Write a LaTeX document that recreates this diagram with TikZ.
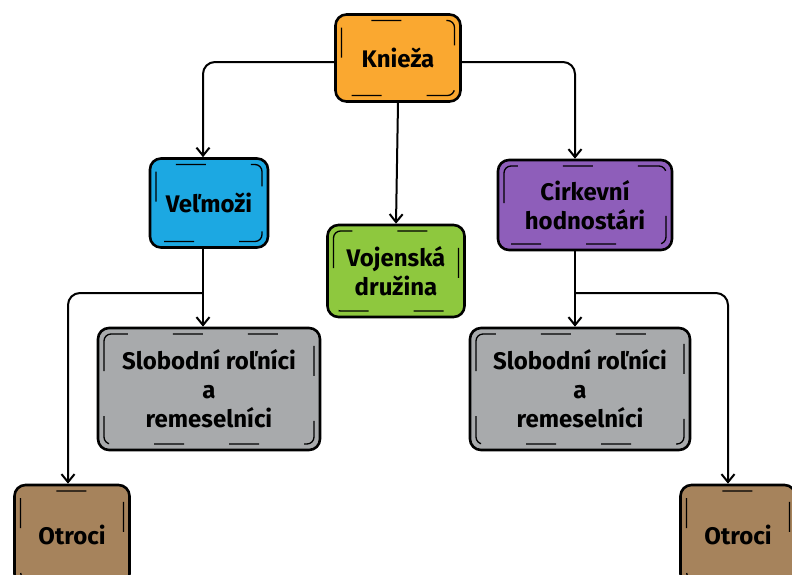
\documentclass[tikz,border=0pt]{standalone}
\usepackage{fontspec}
\setmainfont{Fira Sans}
\usepackage{xcolor}
\usepackage{tikz}
\usetikzlibrary{arrows.meta}

\definecolor{knOrange}{RGB}{250,168,48}
\definecolor{velBlue}{RGB}{28,168,226}
\definecolor{cirPurple}{RGB}{142,94,186}
\definecolor{vojGreen}{RGB}{142,200,62}
\definecolor{slGray}{RGB}{168,170,172}
\definecolor{otBrown}{RGB}{166,131,92}

\tikzset{
  box/.style={draw, black, line width=2.6pt, rounded corners=11pt, align=center,
    font=\fontsize{24}{29}\selectfont\bfseries,
    path picture={\draw[line width=1.3pt, dash pattern=on 30pt off 45pt, rounded corners=7pt]
      ([shift={(6pt,-6pt)}]path picture bounding box.north west) rectangle
      ([shift={(-6pt,6pt)}]path picture bounding box.south east);}},
  conn/.style={black, line width=2pt, rounded corners=12pt, -{Straight Barb[length=8pt,width=13pt]}}
}

\begin{document}
\begin{tikzpicture}[x=1pt, y=1pt, node distance=145pt]
                \useasboundingbox (0,0) rectangle (792,-574);
                \node[box, fill=knOrange, minimum width=125pt, minimum height=87pt] (kn) at (398,-58) {Knieža};
                \node[box, fill=velBlue, minimum width=118pt, minimum height=89pt, below of=kn, xshift=-189pt] (vel) {Veľmoži};
                \node[box, fill=cirPurple, minimum width=174pt, minimum height=90pt, below of=kn, xshift=187pt, yshift=-2pt] (cir) {Cirkevní\\hodnostári};
                \node[box, fill=vojGreen, minimum width=137pt, minimum height=92pt, below of=kn, xshift=-2pt, yshift=-68pt] (voj) {Vojenská\\družina};
                \node[box, fill=slGray, minimum width=222pt, minimum height=122pt, below of=vel, yshift=-41pt] (sl1) {Slobodní roľníci\\a\\remeselníci};
                \node[box, fill=slGray, minimum width=220pt, minimum height=122pt, below of=cir, xshift=-5pt, yshift=-39pt] (sl2) {Slobodní roľníci\\a\\remeselníci};
                \node[box, fill=otBrown, minimum width=115pt, minimum height=100pt, below of=sl1, xshift=-137pt, yshift=-1pt] (ot1) {Otroci};
                \node[box, fill=otBrown, minimum width=115pt, minimum height=100pt, below of=sl2, xshift=158pt, yshift=-1pt] (ot2) {Otroci};
                \coordinate (b1) at (203,-293);
                \coordinate (b2) at (575,-293);
                \draw[conn] ([yshift=-4pt]kn.west) -| ([xshift=-6pt]vel.north);
                \draw[conn] ([yshift=-4pt]kn.east) -| ([xshift=-10pt]cir.north);
                \draw[conn] (kn.south) -- (voj.north);
                \draw[conn] ([xshift=-6pt]vel.south) -- ([xshift=-6pt]vel.south |- sl1.north);
                \draw[conn] ([xshift=-10pt]cir.south) -- ([xshift=-10pt]cir.south |- sl2.north);
                \draw[conn] (b1) -| ([xshift=-4pt]ot1.north);
                \draw[conn] (b2) -| ([xshift=-10pt]ot2.north);
\end{tikzpicture}
\end{document}
